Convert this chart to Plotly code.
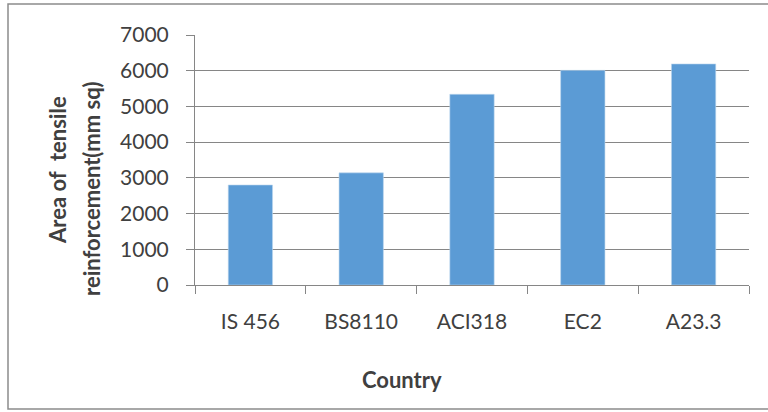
import plotly.graph_objects as go

# Design codes and the tensile reinforcement area each one requires
codes = ["IS 456", "BS8110", "ACI318", "EC2", "A23.3"]
area_mm2 = [2800, 3140, 5340, 6010, 6190]
y_ticks = [0, 1000, 2000, 3000, 4000, 5000, 6000, 7000]

W, H = 768, 412
L, R, T, B = 195, 19, 35, 127
pw, ph = W - L - R, H - T - B

def px_x(x):
    return (x - L) / pw

def px_y(y):
    return (H - B - y) / ph

FONT = "Lato, 'Liberation Sans', sans-serif"
AX = "#868686"
TXT = "#404040"

fig = go.Figure(
    go.Bar(
        x=codes,
        y=area_mm2,
        marker=dict(color="#5B9BD5", line=dict(color="#BDD7EE", width=0.6)),
        width=0.4,
    )
)

fig.update_layout(
    width=W,
    height=H,
    margin=dict(l=L, r=R, t=T, b=B),
    paper_bgcolor="white",
    plot_bgcolor="white",
    showlegend=False,
    font=dict(family=FONT, size=21, color=TXT),
    xaxis=dict(
        type="category",
        tickson="boundaries",
        ticks="outside",
        ticklen=8,
        tickcolor=AX,
        showline=True,
        linecolor=AX,
        linewidth=1,
        showgrid=False,
        tickfont=dict(size=21, color=TXT),
        ticklabelstandoff=18,
    ),
    yaxis=dict(
        range=[0, 7000],
        tickvals=y_ticks,
        ticks="outside",
        ticklen=8,
        tickcolor=AX,
        showline=True,
        linecolor=AX,
        linewidth=1,
        showgrid=True,
        gridcolor=AX,
        gridwidth=1,
        zeroline=False,
        tickfont=dict(size=21, color=TXT),
        ticklabelstandoff=13,
    ),
    shapes=[
        dict(
            type="rect",
            xref="paper",
            yref="paper",
            x0=px_x(8),
            x1=px_x(790),
            y0=px_y(409),
            y1=px_y(4),
            line=dict(color="#8c8c8c", width=1.5),
            fillcolor="rgba(0,0,0,0)",
            layer="below",
        )
    ],
    annotations=[
        dict(
            text="<b>Country</b>",
            xref="paper",
            yref="paper",
            x=px_x(402),
            y=px_y(379),
            showarrow=False,
            font=dict(size=22, color=TXT),
            xanchor="center",
            yanchor="middle",
        ),
        dict(
            text="<b>Area of  tensile</b>",
            xref="paper",
            yref="paper",
            x=px_x(57),
            y=px_y(170),
            showarrow=False,
            textangle=-90,
            font=dict(size=22, color=TXT),
            xanchor="center",
            yanchor="middle",
        ),
        dict(
            text="<b>reinforcement(mm sq)</b>",
            xref="paper",
            yref="paper",
            x=px_x(91),
            y=px_y(189),
            showarrow=False,
            textangle=-90,
            font=dict(size=22, color=TXT),
            xanchor="center",
            yanchor="middle",
        ),
    ],
)

fig.write_html("out.html")
